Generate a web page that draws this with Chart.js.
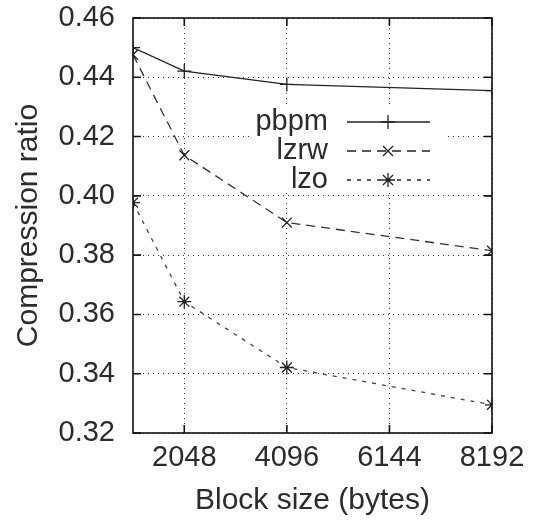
<!DOCTYPE html>
<html>
<head>
<meta charset="utf-8">
<script src="https://cdn.jsdelivr.net/npm/chart.js@4/dist/chart.umd.min.js"></script>
<style>
  html, body { margin: 0; padding: 0; background: #fff; }
  #wrap { width: 533px; height: 522px; }
</style>
</head>
<body>
<div id="wrap"><canvas id="grafico"></canvas></div>
<script>
// block sizes in bytes
const blockSizes = [1024, 2048, 4096, 8192];
const pbpm = [0.4500, 0.4421, 0.4376, 0.4355];
const lzrw = [0.4476, 0.4137, 0.3910, 0.3815];
const lzo  = [0.3977, 0.3643, 0.3421, 0.3295];
const xTicks = [2048, 4096, 6144, 8192];
const yTicks = [0.32, 0.34, 0.36, 0.38, 0.40, 0.42, 0.44, 0.46];

const FONT = 'Liberation Sans, Arial, sans-serif';
const TEXT = '#2b2b2b';
const FSIZE = 29;
const TSIZE = 30;

function pts(vals) {
    return blockSizes.map((b, i) => ({ x: b, y: vals[i] }));
}

function drawMarker(ctx, style, x, y, r) {
    ctx.beginPath();
    if (style === 'cross' || style === 'star') {
        ctx.moveTo(x - r, y); ctx.lineTo(x + r, y);
        ctx.moveTo(x, y - r); ctx.lineTo(x, y + r);
    }
    if (style === 'crossRot' || style === 'star') {
        const d = r * 0.72;
        ctx.moveTo(x - d, y - d); ctx.lineTo(x + d, y + d);
        ctx.moveTo(x - d, y + d); ctx.lineTo(x + d, y - d);
    }
    ctx.stroke();
}

// box, mirrored inward ticks and the in-plot legend (gnuplot look)
const frame = {
    id: 'frame',
    beforeDatasetsDraw(chart) {
        const { ctx } = chart;
        ctx.save();
        // legend background hides the grid behind it
        ctx.fillStyle = '#fff';
        ctx.fillRect(252, 104, 196, 88);
        ctx.restore();
    },
    afterDatasetsDraw(chart) {
        const { ctx, chartArea: a, scales } = chart;
        ctx.save();
        ctx.strokeStyle = '#111';
        ctx.lineWidth = 1.6;
        ctx.setLineDash([]);
        ctx.strokeRect(a.left, a.top, a.right - a.left, a.bottom - a.top);
        const t = 8;
        ctx.beginPath();
        yTicks.forEach(v => {
            const y = scales.y.getPixelForValue(v);
            ctx.moveTo(a.left, y); ctx.lineTo(a.left + t, y);
            ctx.moveTo(a.right, y); ctx.lineTo(a.right - t, y);
        });
        xTicks.forEach(v => {
            const x = scales.x.getPixelForValue(v);
            ctx.moveTo(x, a.bottom); ctx.lineTo(x, a.bottom - t);
            ctx.moveTo(x, a.top); ctx.lineTo(x, a.top + t);
        });
        ctx.stroke();

        // legend
        ctx.font = FSIZE + 'px ' + FONT;
        ctx.textAlign = 'right';
        ctx.textBaseline = 'middle';
        chart.data.datasets.forEach((ds, i) => {
            const y = 122 + i * 29;
            ctx.fillStyle = TEXT;
            ctx.fillText(ds.label, 328, y);
            ctx.strokeStyle = '#222';
            ctx.lineWidth = 1.3;
            ctx.setLineDash(ds.borderDash || []);
            ctx.beginPath();
            ctx.moveTo(347, y); ctx.lineTo(430, y);
            ctx.stroke();
            ctx.setLineDash([]);
            drawMarker(ctx, ds.pointStyle, 388, y, 7);
        });
        ctx.restore();
    }
};

const config = {
    type: 'line',
    data: {
        datasets: [{
            label: 'pbpm',
            data: pts(pbpm),
            borderColor: '#222',
            borderWidth: 1.3,
            pointStyle: 'cross',
            pointRadius: 7,
            pointBorderWidth: 1.3,
            pointBorderColor: '#222'
        }, {
            label: 'lzrw',
            data: pts(lzrw),
            borderColor: '#333',
            borderWidth: 1.3,
            borderDash: [9, 6],
            pointStyle: 'crossRot',
            pointRadius: 7,
            pointBorderWidth: 1.3,
            pointBorderColor: '#222'
        }, {
            label: 'lzo',
            data: pts(lzo),
            borderColor: '#444',
            borderWidth: 1.3,
            borderDash: [4, 6],
            pointStyle: 'star',
            pointRadius: 7,
            pointBorderWidth: 1.3,
            pointBorderColor: '#222'
        }]
    },
    options: {
        responsive: false,
        animation: false,
        layout: { padding: { top: 18, right: 41, left: 0, bottom: 0 } },
        plugins: { legend: { display: false }, tooltip: { enabled: false } },
        scales: {
            x: {
                type: 'linear',
                min: 1024,
                max: 8192,
                afterBuildTicks: s => { s.ticks = xTicks.map(v => ({ value: v })); },
                afterFit: s => { s.height = 89; s.paddingLeft = 0; s.paddingRight = 0; },
                grid: { color: '#333', lineWidth: 1, drawTicks: false },
                border: { display: false, dash: [1, 4] },
                ticks: { color: TEXT, padding: 8, font: { family: FONT, size: FSIZE }, maxRotation: 0, callback: v => String(v) },
                title: { display: true, text: 'Block size (bytes)', color: TEXT, font: { family: FONT, size: TSIZE }, padding: { top: 0, bottom: 3 } }
            },
            y: {
                min: 0.32,
                max: 0.46,
                afterBuildTicks: s => { s.ticks = yTicks.map(v => ({ value: v })); },
                afterFit: s => { s.width = 133; s.paddingTop = 0; s.paddingBottom = 0; },
                grid: { color: '#333', lineWidth: 1, drawTicks: false },
                border: { display: false, dash: [1, 4] },
                ticks: { color: TEXT, padding: 18, font: { family: FONT, size: FSIZE }, callback: v => v.toFixed(2) },
                title: { display: true, text: 'Compression ratio', color: TEXT, font: { family: FONT, size: TSIZE }, padding: { top: 11, bottom: 0 } }
            }
        }
    },
    plugins: [frame]
};

const canvas = document.getElementById('grafico');
canvas.width = 533;
canvas.height = 522;
new Chart(canvas, config);
</script>
</body>
</html>
